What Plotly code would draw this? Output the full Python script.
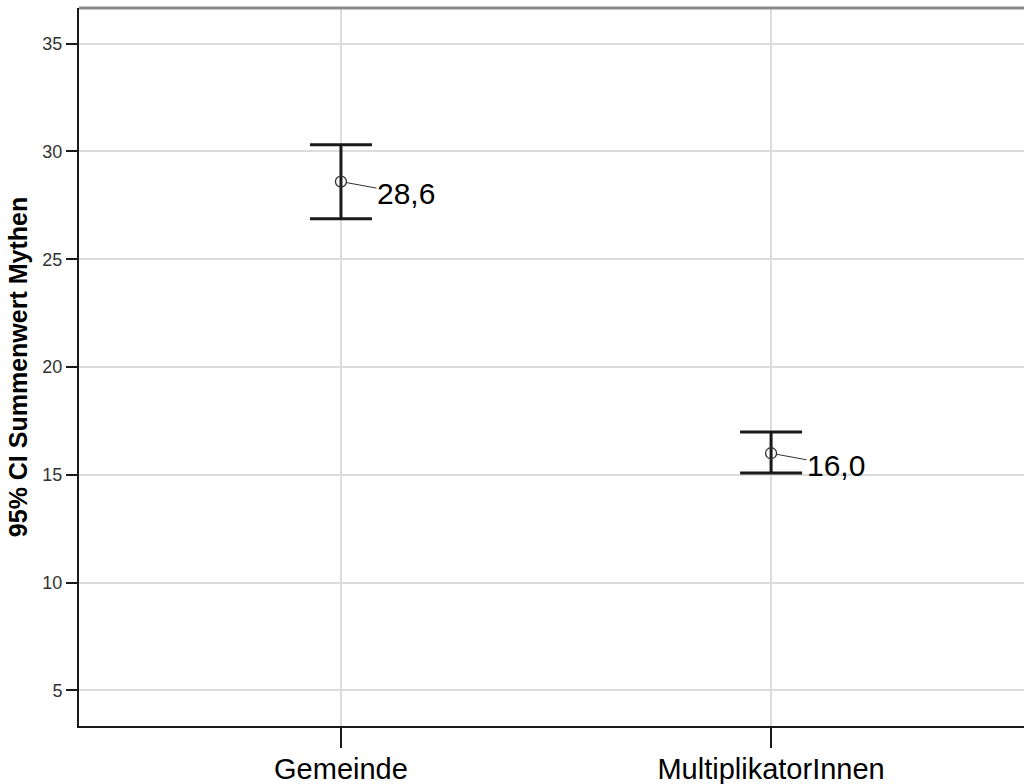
import plotly.graph_objects as go

# Group means with 95% confidence limits
groups = ["Gemeinde", "MultiplikatorInnen"]
means = [28.6, 16.0]
ci_upper = [30.31, 16.99]
ci_lower = [26.88, 15.08]
mean_labels = ["28,6", "16,0"]

y_ticks = [5, 10, 15, 20, 25, 30, 35]

x_pos = list(range(len(groups)))
err_plus = [u - m for u, m in zip(ci_upper, means)]
err_minus = [m - l for m, l in zip(means, ci_lower)]

FONT = "Liberation Sans, Arial, sans-serif"

fig = go.Figure()
fig.add_trace(go.Scatter(
    x=x_pos,
    y=means,
    mode="markers",
    marker=dict(symbol="circle-open", size=11, color="#333333",
                line=dict(width=1.3, color="#333333")),
    error_y=dict(type="data", symmetric=False, array=err_plus,
                 arrayminus=err_minus, color="#1a1a1a",
                 thickness=3, width=31),
    showlegend=False,
    hoverinfo="skip",
))

# Mean value labels with thin leader lines
for xi, m, lab in zip(x_pos, means, mean_labels):
    fig.add_annotation(
        x=xi, y=m, text=lab, showarrow=True, arrowhead=0,
        arrowwidth=1, arrowcolor="#333333", standoff=6,
        ax=65, ay=12, xanchor="center", yanchor="middle",
        font=dict(family=FONT, size=30, color="#000000"),
        borderpad=0,
    )

# Grey frame line along the top of the plot area
fig.add_shape(type="line", xref="paper", yref="paper",
              x0=0, x1=1, y0=1, y1=1,
              line=dict(color="#8a8a8a", width=3))

fig.update_layout(
    width=1024,
    height=784,
    margin=dict(l=79, r=0, t=8, b=58),
    paper_bgcolor="white",
    plot_bgcolor="white",
    font=dict(family=FONT),
    xaxis=dict(
        range=[-0.609, 1.588],
        tickmode="array",
        tickvals=x_pos,
        ticktext=groups,
        ticks="outside",
        ticklen=20,
        tickwidth=2,
        tickcolor="#1a1a1a",
        ticklabelstandoff=-4,
        tickfont=dict(family=FONT, size=29, color="#000000"),
        showgrid=True,
        gridcolor="#dcdcdc",
        gridwidth=2,
        showline=True,
        linecolor="#1a1a1a",
        linewidth=2,
        zeroline=False,
        automargin=False,
    ),
    yaxis=dict(
        range=[3.35, 36.65],
        tickmode="array",
        tickvals=y_ticks,
        ticktext=[str(t) for t in y_ticks],
        ticks="outside",
        ticklen=11,
        tickwidth=2,
        tickcolor="#1a1a1a",
        tickfont=dict(family=FONT, size=18, color="#333333"),
        showgrid=True,
        gridcolor="#dcdcdc",
        gridwidth=2,
        showline=True,
        linecolor="#1a1a1a",
        linewidth=2,
        zeroline=False,
        automargin=False,
        title=dict(text="<b>95% CI Summenwert Mythen</b>",
                   font=dict(family=FONT, size=25, color="#000000"),
                   standoff=8),
    ),
)

fig.write_html("out.html")
